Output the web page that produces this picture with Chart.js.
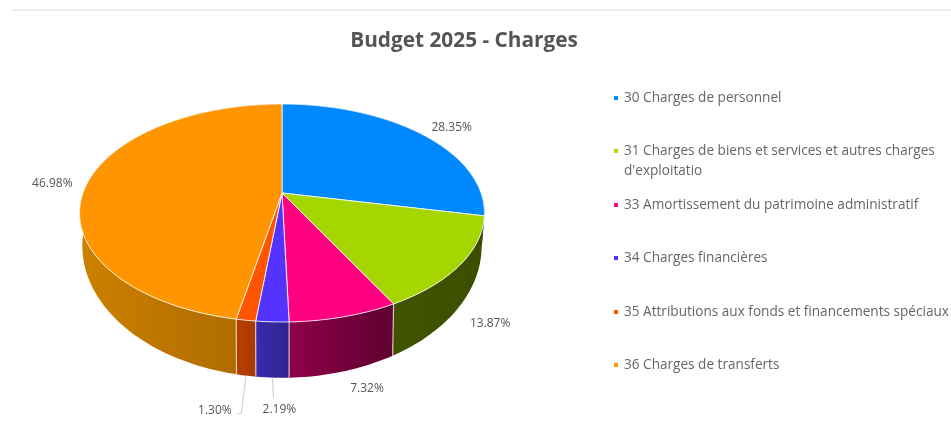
<!DOCTYPE html>
<html>
<head>
<meta charset="utf-8">
<script src="https://cdn.jsdelivr.net/npm/chart.js@4"></script>
<style>
    html, body { margin: 0; padding: 0; background: #fff; }
    #page { position: relative; width: 951px; height: 421px; overflow: hidden; filter: blur(0.7px); }
    #rule { position: absolute; left: 13px; right: 0; top: 9px; height: 2px; background: #eeeeee; }
    #chartBox { position: absolute; left: 0; top: 0; width: 951px; height: 421px; }
    #legend { position: absolute; left: 624px; top: 87px; width: 327px; font: 13.6px/20px "Open Sans", sans-serif; color: #666; }
    #legend div { position: relative; height: 53.4px; white-space: pre; }
    #legend i { position: absolute; left: -10px; top: 9px; width: 4px; height: 4px; }
</style>
</head>
<body>
<div id="page">
    <div id="chartBox"><canvas id="budgetChart"></canvas></div>
    <div id="rule"></div>
    <div id="legend"></div>
</div>
<script>
// Budget 2025 - Charges, pie drawn with a tilted 3D look

const categories = [
    '30 Charges de personnel',
    '31 Charges de biens et services et autres charges\nd\'exploitatio',
    '33 Amortissement du patrimoine administratif',
    '34 Charges financières',
    '35 Attributions aux fonds et financements spéciaux',
    '36 Charges de transferts'
];
const values = [28.35, 13.87, 7.32, 2.19, 1.30, 46.98];
const topColors = ['#0088ff', '#a6d600', '#ff0080', '#5533ff', '#ff5500', '#ff9500'];
const wallLeft = ['#00529a', '#415400', '#8f0049', '#3a2cb0', '#b84000', '#cc8000'];
const wallRight = ['#00467f', '#3c4d00', '#5e0031', '#2e2392', '#a83a00', '#a66800'];

// perspective of the top and bottom discs
const topDisc = { cx: 282, cy: 193, rx: 199, ry: 105.3, p: 0.1835 };
const bottomDisc = { cx: 282, cy: 221, rx: 196, ry: 127, p: 0.19 };

// label shift from the top rim, and leader lines from the bottom rim
const labelNudge = [[31, -6], [29.5, 59], [23, 72], [7, 88], [-31, 90], [-35, 0]];
const leaders = { 3: [[1, 20]], 4: [[-5, 38], [-9, 38]] };

function project(disc, angle) {
    const u = Math.sin(angle);
    const v = -Math.cos(angle);
    const w = 1 - disc.p * v;
    return { x: disc.cx + disc.rx * u / w, y: disc.cy + disc.ry * v / w };
}

function rimPoints(disc, from, to) {
    const steps = Math.max(2, Math.ceil((to - from) / 0.02));
    const pts = [];
    for (let i = 0; i <= steps; i++) {
        pts.push(project(disc, from + (to - from) * i / steps));
    }
    return pts;
}

function tracePath(ctx, pts) {
    ctx.beginPath();
    pts.forEach((p, i) => i ? ctx.lineTo(p.x, p.y) : ctx.moveTo(p.x, p.y));
    ctx.closePath();
}

const pie3d = {
    id: 'pie3d',
    beforeDatasetDraw(chart) {
        const ctx = chart.ctx;
        const arcs = chart.getDatasetMeta(0).data.map((arc, i) => ({
            i,
            from: arc.startAngle + Math.PI / 2,
            to: arc.endAngle + Math.PI / 2
        }));
        ctx.save();

        // walls, from the back to the front
        const depth = a => -Math.cos((a.from + a.to) / 2);
        [...arcs].sort((a, b) => depth(a) - depth(b)).forEach(a => {
            const t = rimPoints(topDisc, a.from, a.to);
            const b = rimPoints(bottomDisc, a.from, a.to);
            const xs = t.concat(b).map(p => p.x);
            const grad = ctx.createLinearGradient(Math.min(...xs), 0, Math.max(...xs), 0);
            grad.addColorStop(0, wallLeft[a.i]);
            grad.addColorStop(1, wallRight[a.i]);
            tracePath(ctx, t.concat(b.reverse()));
            ctx.fillStyle = grad;
            ctx.fill();
        });

        // light edges between the walls on the front side
        ctx.strokeStyle = 'rgba(255, 235, 235, 0.75)';
        ctx.lineWidth = 1.2;
        arcs.forEach(a => {
            if (-Math.cos(a.from) < 0.5) return;
            const p = project(topDisc, a.from);
            const q = project(bottomDisc, a.from);
            ctx.beginPath();
            ctx.moveTo(p.x, p.y);
            ctx.lineTo(q.x, q.y);
            ctx.stroke();
        });

        // top faces
        arcs.forEach(a => {
            const pts = [{ x: topDisc.cx, y: topDisc.cy }].concat(rimPoints(topDisc, a.from, a.to));
            tracePath(ctx, pts);
            ctx.fillStyle = topColors[a.i];
            ctx.fill();
            ctx.strokeStyle = 'rgba(255, 255, 255, 0.8)';
            ctx.lineWidth = 1;
            ctx.stroke();
        });

        // leader lines and percent labels
        ctx.font = '12px "Open Sans", sans-serif';
        ctx.textAlign = 'center';
        ctx.textBaseline = 'middle';
        arcs.forEach(a => {
            const mid = (a.from + a.to) / 2;
            if (leaders[a.i]) {
                const start = project(bottomDisc, mid);
                ctx.strokeStyle = '#cccccc';
                ctx.lineWidth = 1;
                ctx.beginPath();
                ctx.moveTo(start.x, start.y);
                leaders[a.i].forEach(d => ctx.lineTo(start.x + d[0], start.y + d[1]));
                ctx.stroke();
            }
            const rim = project(topDisc, mid);
            ctx.fillStyle = '#555555';
            ctx.fillText(values[a.i].toFixed(2) + '%', rim.x + labelNudge[a.i][0], rim.y + labelNudge[a.i][1]);
        });

        ctx.restore();
        return false;
    }
};

new Chart(document.getElementById('budgetChart'), {
    type: 'pie',
    data: {
        labels: categories,
        datasets: [{ data: values, backgroundColor: topColors }]
    },
    plugins: [pie3d],
    options: {
        responsive: true,
        maintainAspectRatio: false,
        animation: false,
        layout: { padding: { right: 23 } },
        plugins: {
            legend: { display: false },
            tooltip: { enabled: false },
            title: {
                display: true,
                text: 'Budget 2025 - Charges',
                color: '#555555',
                font: { family: 'Open Sans', size: 20.8, weight: 'bold' },
                padding: { top: 29, bottom: 10 }
            }
        }
    }
});

// Legend next to the chart
const legendBox = document.getElementById('legend');
categories.forEach((name, i) => {
    const row = document.createElement('div');
    const mark = document.createElement('i');
    mark.style.background = topColors[i];
    row.appendChild(mark);
    row.appendChild(document.createTextNode(name));
    legendBox.appendChild(row);
});
</script>
</body>
</html>
